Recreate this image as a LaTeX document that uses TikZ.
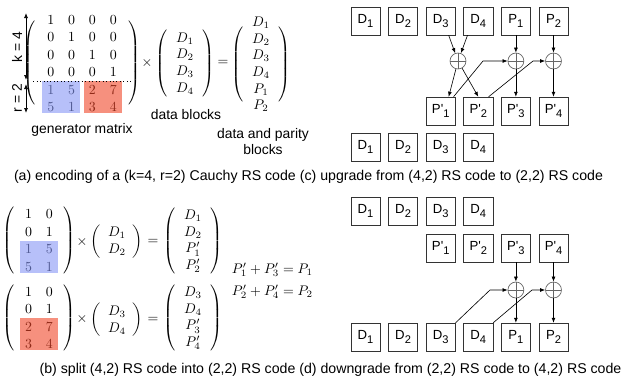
\documentclass[tikz,border=0pt]{standalone}
\usepackage[no-math]{fontspec}
\newfontfamily\labelfont{Liberation Sans}
\usetikzlibrary{matrix,arrows.meta}

\definecolor{hlblue}{RGB}{135,150,245}
\definecolor{hlred}{RGB}{240,70,40}

% block name with a lowered index, e.g. D_1
\newcommand{\blk}[2]{#1\raisebox{-2.8pt}{\fontsize{8}{10}\selectfont #2}}
\newcommand{\pblk}[1]{\blk{P\textquotesingle}{#1}}

\begin{document}
\begin{tikzpicture}[
    x=0.72pt,
    y=-0.72pt,
    font=\labelfont,
    block/.style={
        draw=black!80,
        line width=0.5pt,
        minimum width=21pt,
        minimum height=20pt,
        inner sep=0pt,
        font=\labelfont\fontsize{9.5}{11}\selectfont
    },
    xorgate/.style={
        circle,
        draw=black!60,
        line width=0.5pt,
        minimum size=11.5pt,
        inner sep=0pt,
        path picture={
            \draw[black!60, line width=0.5pt]
                (path picture bounding box.north) -- (path picture bounding box.south)
                (path picture bounding box.west) -- (path picture bounding box.east);
        }
    },
    flow/.style={-{Latex[length=3.6pt,width=2.8pt]}, line width=0.45pt},
    span/.style={{Latex[length=3.6pt,width=2.8pt]}-{Latex[length=3.6pt,width=2.8pt]}, line width=0.5pt},
    coefmat/.style={
        matrix of math nodes,
        left delimiter=(,
        right delimiter=),
        inner sep=1pt,
        nodes={inner sep=0pt, minimum width=15pt, minimum height=12.5pt}
    },
    blockvec/.style={
        matrix of math nodes,
        left delimiter=(,
        right delimiter=),
        inner sep=1pt,
        nodes={inner sep=0pt, minimum width=#1, minimum height=12pt}
    },
    blockvec/.default=20pt,
    caption/.style={font=\labelfont\fontsize{10.2}{12}\selectfont}
]

\useasboundingbox (0,0) rectangle (630,383);

% ---------- (a) encoding ----------
\matrix (gen) [coefmat, inner ysep=-8pt, inner xsep=2pt] at (82,63.5) {
    1 & 0 & 0 & 0 \\
    0 & 1 & 0 & 0 \\
    0 & 0 & 1 & 0 \\
    0 & 0 & 0 & 1 \\
    1 & 5 & 2 & 7 \\
    5 & 1 & 3 & 4 \\
};
\fill[hlblue, fill opacity=.6]
    ([xshift=1.5pt,yshift=-0.5pt]gen-5-1.north west) rectangle ([xshift=-1.5pt,yshift=2pt]gen-6-2.south east);
\fill[hlred, fill opacity=.6]
    ([xshift=1.5pt,yshift=-0.5pt]gen-5-3.north west) rectangle ([xshift=-1.5pt,yshift=2pt]gen-6-4.south east);
\draw[dotted, line width=0.5pt]
    ([xshift=-5pt]gen-4-1.south west) -- ([xshift=5pt]gen-4-4.south east);

% k and r spans
\coordinate (ktop) at (26,13);
\coordinate (kbot) at (26,80);
\coordinate (rtop) at (26,84);
\coordinate (rbot) at (26,113);
\draw[span] (ktop) -- (kbot);
\draw[span] (rtop) -- (rbot);
\node[rotate=90] (klabel) at (17,47) {k = 4};
\node[rotate=90] (rlabel) at (17,98) {r = 2};

\node (genlabel) at (82,130) {generator matrix};

\node (times1) at (147,63) {$\times$};
\matrix (dvec) [blockvec=20pt] at (185,63.5) {
    D_1 \\ D_2 \\ D_3 \\ D_4 \\
};
\node (dlabel) at (186,115) {data blocks};

\node (eq1) at (223,63) {$=$};
\matrix (codevec) [blockvec=20pt, inner ysep=-8pt] at (261,64.5) {
    D_1 \\ D_2 \\ D_3 \\ D_4 \\ P_1 \\ P_2 \\
};
\node[align=center] (codelabel) at (263,141.5) {data and parity\\blocks};

% ---------- (b) split ----------
\matrix (spla) [coefmat] at (39,240.5) {
    1 & 0 \\
    0 & 1 \\
    1 & 5 \\
    5 & 1 \\
};
\fill[hlblue, fill opacity=.6]
    ([xshift=1.5pt,yshift=-0.5pt]spla-3-1.north west) rectangle ([xshift=-1.5pt,yshift=2pt]spla-4-2.south east);
\node (times2) at (82,242) {$\times$};
\matrix (splavec) [blockvec=18pt] at (117,241.5) {
    D_1 \\ D_2 \\
};
\node (eq2) at (153,242) {$=$};
\matrix (splares) [blockvec=20pt] at (193,241) {
    D_1 \\ D_2 \\ P'_1 \\ P'_2 \\
};

\matrix (splb) [coefmat] at (39,318) {
    1 & 0 \\
    0 & 1 \\
    2 & 7 \\
    3 & 4 \\
};
\fill[hlred, fill opacity=.6]
    ([xshift=1.5pt,yshift=-0.5pt]splb-3-1.north west) rectangle ([xshift=-1.5pt,yshift=2pt]splb-4-2.south east);
\node (times3) at (82,319) {$\times$};
\matrix (splbvec) [blockvec=18pt] at (117,320) {
    D_3 \\ D_4 \\
};
\node (eq3) at (153,320) {$=$};
\matrix (splbres) [blockvec=20pt] at (193,318) {
    D_3 \\ D_4 \\ P'_3 \\ P'_4 \\
};

\node[anchor=west] (sum1) at (227,270) {$P'_1 + P'_3 = P_1$};
\node[anchor=west] (sum2) at (227,292) {$P'_2 + P'_4 = P_2$};

% ---------- (c) upgrade ----------
\foreach \i/\x in {1/365.5, 2/403.1, 3/440.7, 4/478.3}
    \node[block] (cD\i) at (\x,21) {\blk{D}{\i}};
\node[block] (cP1) at (515.9,21) {\blk{P}{1}};
\node[block] (cP2) at (553.5,21) {\blk{P}{2}};

\node[xorgate] (cx1) at (458,61) {};
\node[xorgate] (cx2) at (515.9,61) {};
\node[xorgate] (cx3) at (553.5,61) {};

\foreach \i/\x in {1/440.7, 2/478.3, 3/515.9, 4/553.5}
    \node[block] (cQ\i) at (\x,111) {\pblk{\i}};

\foreach \i/\x in {1/365.5, 2/403.1, 3/440.7, 4/478.3}
    \node[block] (cE\i) at (\x,147) {\blk{D}{\i}};

\coordinate (cb1) at (483,61);
\coordinate (cb2) at (533,61);

\draw[flow] ([xshift=-5pt]cD3.south east) -- (cx1);
\draw[flow] ([xshift=3pt]cD4.south west) -- (cx1);
\draw[flow] (cP1) -- (cx2);
\draw[flow] (cP2) -- (cx3);
\draw[flow] (cx1) -- ([xshift=-5pt]cQ1.north east);
\draw[flow] (cx1) -- (cQ2.north);
\draw[flow] (cx2) -- (cQ3);
\draw[flow] (cx3) -- (cQ4);
\draw[flow] ([xshift=-1.5pt]cQ1.north east) -- (cb1) -- (cx2);
\draw[flow] ([xshift=-3.3pt]cQ2.north east) -- (cb2) -- (cx3);

% ---------- (d) downgrade ----------
\foreach \i/\x in {1/365.5, 2/403.1, 3/440.7, 4/478.3}
    \node[block] (dD\i) at (\x,211) {\blk{D}{\i}};

\foreach \i/\x in {1/440.7, 2/478.3, 3/515.9, 4/553.5}
    \node[block] (dQ\i) at (\x,248) {\pblk{\i}};

\node[xorgate] (dx1) at (515.9,290) {};
\node[xorgate] (dx2) at (553.5,290) {};

\foreach \i/\x in {1/365.5, 2/403.1, 3/440.7, 4/478.3}
    \node[block] (dE\i) at (\x,337) {\blk{D}{\i}};
\node[block] (dP1) at (515.9,337) {\blk{P}{1}};
\node[block] (dP2) at (553.5,337) {\blk{P}{2}};

\coordinate (db1) at (490,290);
\coordinate (db2) at (532,290);

\draw[flow] (dQ3) -- (dx1);
\draw[flow] (dQ4) -- (dx2);
\draw[flow] (dx1) -- (dP1);
\draw[flow] (dx2) -- (dP2);
\draw[flow] (dE3.north east) -- (db1) -- (dx1);
\draw[flow] (dE4.north east) -- (db2) -- (dx2);

% captions
\node[caption] (capac) at (308.5,177)
    {(a) encoding of a (k=4, r=2) Cauchy RS code (c) upgrade from (4,2) RS code to (2,2) RS code};
\node[caption] (capbd) at (330.5,370)
    {(b) split (4,2) RS code into (2,2) RS code (d) downgrade from (2,2) RS code to (4,2) RS code};

\end{tikzpicture}
\end{document}
